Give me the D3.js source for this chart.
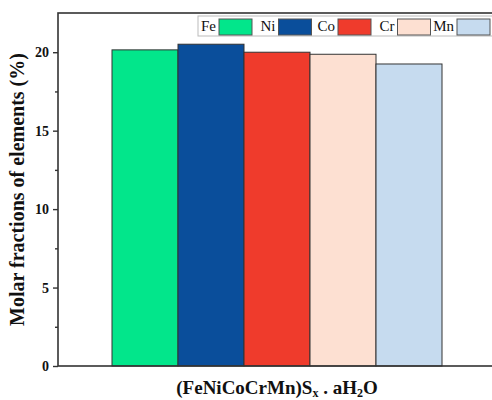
<!DOCTYPE html>
<html>
<head>
<meta charset="utf-8">
<script src="https://cdn.jsdelivr.net/npm/d3@7"></script>
<style>
  body { margin: 0; background: #fff; }
  svg text { font-family: "Liberation Serif", "Times New Roman", Times, "DejaVu Serif", serif; font-weight: bold; }
</style>
</head>
<body>
<div id="chart"></div>
<script>
// data
const elements = ["Fe", "Ni", "Co", "Cr", "Mn"];
const fractions = [20.15, 20.51, 20.0, 19.87, 19.25];
const colors = ["#02e68b", "#0a4e9b", "#ef3b2c", "#fde0d2", "#c6dbef"];
const yTicks = [0, 5, 10, 15, 20];

const serif = "'Liberation Serif', 'Times New Roman', Times, 'DejaVu Serif', serif";

const width = 492, height = 400;
const margin = {top: 13, right: -10, bottom: 34, left: 58};

const svg = d3.select("#chart").append("svg")
    .attr("width", width)
    .attr("height", height);

const x = d3.scaleBand()
    .domain(elements)
    .range([112, 442])
    .padding(0);

const y = d3.scaleLinear()
    .domain([0, 22.5])
    .range([height - margin.bottom, margin.top]);

// bars
svg.selectAll("rect.bar")
    .data(elements)
    .enter()
    .append("rect")
    .attr("class", "bar")
    .attr("x", d => x(d))
    .attr("width", x.bandwidth())
    .attr("y", (d, i) => y(fractions[i]))
    .attr("height", (d, i) => y(0) - y(fractions[i]))
    .style("fill", (d, i) => colors[i])
    .style("stroke", "#333")
    .style("stroke-width", 1);

// frame
svg.append("rect")
    .attr("x", margin.left)
    .attr("y", margin.top)
    .attr("width", width - margin.left - margin.right)
    .attr("height", y(0) - margin.top)
    .style("fill", "none")
    .style("stroke", "#333")
    .style("stroke-width", 1.6);

// y axis, major + minor ticks
svg.append("g")
    .attr("transform", "translate(" + margin.left + ",0)")
    .call(d3.axisLeft(y).tickValues(d3.range(2.5, 22.5, 5)).tickSize(3).tickFormat(""))
    .call(g => g.select(".domain").remove())
    .call(g => g.selectAll("line").style("stroke", "#333").style("stroke-width", 1.4));

svg.append("g")
    .attr("transform", "translate(" + margin.left + ",0)")
    .call(d3.axisLeft(y).tickValues(yTicks).tickSize(5).tickPadding(4))
    .call(g => g.select(".domain").remove())
    .call(g => g.selectAll("line").style("stroke", "#333").style("stroke-width", 1.4))
    .call(g => g.selectAll("text")
        .style("font-family", serif)
        .style("font-weight", "bold")
        .style("font-size", "14px")
        .style("fill", "#111"));

// axis titles
svg.append("text")
    .attr("transform", "translate(24," + (margin.top + y(0)) / 2 + ") rotate(-90)")
    .attr("text-anchor", "middle")
    .style("font-family", serif)
    .style("font-size", "20px")
    .style("fill", "#111")
    .text("Molar fractions of elements (%)");

const xt = svg.append("text")
    .attr("x", x.range()[0] + (x.range()[1] - x.range()[0]) / 2)
    .attr("y", 394)
    .attr("text-anchor", "middle")
    .style("font-family", serif)
    .style("font-size", "19px")
    .style("fill", "#111");
xt.append("tspan").text("(FeNiCoCrMn)S");
xt.append("tspan").attr("dy", 3).style("font-size", "12px").text("x");
xt.append("tspan").attr("dy", -3).text(" . aH");
xt.append("tspan").attr("dy", 3).style("font-size", "12px").text("2");
xt.append("tspan").attr("dy", -3).text("O");

// legend
const legend = svg.append("g").attr("transform", "translate(198,16)");
legend.append("rect")
    .attr("width", 300)
    .attr("height", 20)
    .style("fill", "#fff")
    .style("stroke", "#bbb")
    .style("stroke-width", 1);

const item = legend.selectAll("g.item")
    .data(elements)
    .enter()
    .append("g")
    .attr("class", "item")
    .attr("transform", (d, i) => "translate(" + (i * 59.5) + ",0)");

item.append("text")
    .attr("x", 18)
    .attr("y", 15)
    .attr("text-anchor", "end")
    .style("font-family", serif)
    .style("font-size", "15px")
    .style("font-weight", "normal")
    .style("fill", "#111")
    .text(d => d);

item.append("rect")
    .attr("x", 21)
    .attr("y", 3)
    .attr("width", 33)
    .attr("height", 16)
    .style("fill", (d, i) => colors[i])
    .style("stroke", "#555")
    .style("stroke-width", 1);
</script>
</body>
</html>
